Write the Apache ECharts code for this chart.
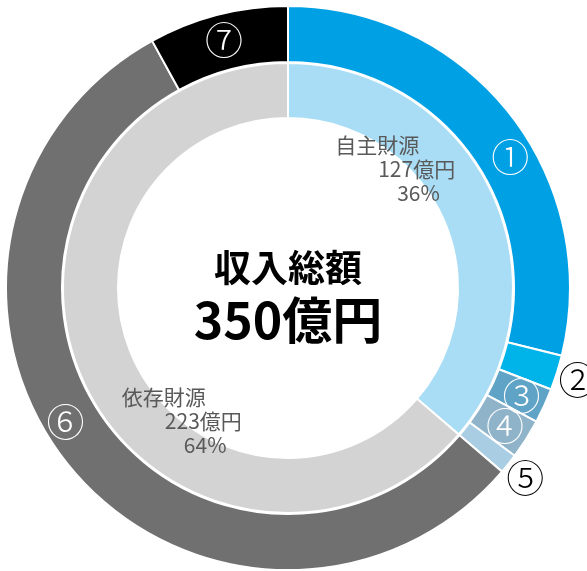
<!DOCTYPE html>
<html>
<head>
<meta charset="utf-8">
<script src="https://cdn.jsdelivr.net/npm/echarts@6/dist/echarts.min.js"></script>
<style>
html,body{margin:0;padding:0;background:#fff;}
#chart{width:587px;height:571px;}
</style>
</head>
<body>
<div id="chart"></div>
<script>
// ---- data ----
const outerNames = ['①', '②', '③', '④', '⑤', '⑥', '⑦'];
const outerValues = [101, 7, 7, 8, 4, 195, 28];
const outerColors = ['#00a0e4', '#00b4ea', '#5fa3c7', '#8fb3c8', '#a9cde3', '#707070', '#000000'];
const outerLabelOutside = [false, true, false, false, true, false, false];

const innerNames = ['自主財源', '依存財源'];
const innerValues = [127, 223];
const innerColors = ['#a9ddf5', '#d3d3d3'];

const centerTitle = '収入総額';
const unitText = '億円';
const totalValue = innerValues.reduce((a, b) => a + b, 0);

// ---- chart ----
const FONT = '"Noto Sans CJK JP", "Noto Sans", sans-serif';
const chart = echarts.init(document.getElementById('chart'), null, { renderer: 'canvas' });

const CX = 288, CY = 288;

const outerData = outerNames.map((n, i) => ({
  name: n, value: outerValues[i],
  itemStyle: { color: outerColors[i] },
  label: { show: !outerLabelOutside[i] }
}));
const outerLabelData = outerNames.map((n, i) => ({
  name: n, value: outerValues[i],
  itemStyle: { color: 'rgba(0,0,0,0)' },
  label: { show: outerLabelOutside[i] }
}));
const innerData = innerNames.map((n, i) => ({
  name: n, value: innerValues[i],
  itemStyle: { color: innerColors[i] }
}));

// label nudges (relative to default inside position)
const outerNudge = { 0: [20, 27], 5: [-23, -28] };
const innerNudge = { 0: [-75, -35], 1: [76, 49] };

const option = {
  backgroundColor: '#ffffff',
  animation: false,
  textStyle: { fontFamily: FONT },
  graphic: [
    {
      type: 'text', x: CX, y: 268,
      style: { text: centerTitle, fontFamily: FONT, fontSize: 37, fontWeight: 'bold', fill: '#000', align: 'center', verticalAlign: 'middle' }
    },
    {
      type: 'text', x: CX, y: 320,
      style: { text: totalValue + unitText, fontFamily: FONT, fontSize: 50, fontWeight: 'bold', fill: '#000', align: 'center', verticalAlign: 'middle' }
    }
  ],
  series: [
    {
      type: 'pie',
      center: [CX, CY],
      radius: [170, 225],
      startAngle: 90,
      clockwise: true,
      avoidLabelOverlap: false,
      silent: true,
      itemStyle: { borderColor: '#fff', borderWidth: 2 },
      label: {
        show: true,
        position: 'inside',
        formatter: p => `{n|${p.name}}\n{v|${p.value}${unitText}}\n{p|${Math.round(p.percent)}%}`,
        rich: {
          n: { fontFamily: FONT, fontSize: 21, color: '#595959', align: 'left', lineHeight: 24 },
          v: { fontFamily: FONT, fontSize: 21, color: '#595959', align: 'left', lineHeight: 24, padding: [0, 0, 0, 43] },
          p: { fontFamily: FONT, fontSize: 21, color: '#595959', align: 'left', lineHeight: 24, padding: [0, 0, 0, 62] }
        }
      },
      labelLine: { show: false },
      labelLayout: p => {
        const d = innerNudge[p.dataIndex] || [0, 0];
        return { dx: d[0], dy: d[1] };
      },
      data: innerData
    },
    {
      type: 'pie',
      center: [CX, CY],
      radius: [226, 282],
      startAngle: 90,
      clockwise: true,
      avoidLabelOverlap: false,
      silent: true,
      itemStyle: { borderColor: '#fff', borderWidth: 2 },
      label: {
        position: 'inside',
        formatter: '{b}',
        fontFamily: FONT,
        fontSize: 38,
        fontWeight: 300,
        color: '#ffffff'
      },
      labelLine: { show: false },
      labelLayout: p => {
        const d = outerNudge[p.dataIndex] || [0, 0];
        return { dx: d[0], dy: d[1] };
      },
      data: outerData
    },
    {
      type: 'pie',
      center: [CX, CY],
      radius: [290, 311],
      startAngle: 90,
      clockwise: true,
      avoidLabelOverlap: false,
      silent: true,
      itemStyle: { borderWidth: 0 },
      label: {
        position: 'inside',
        formatter: '{b}',
        fontFamily: FONT,
        fontSize: 38,
        fontWeight: 300,
        color: '#000000'
      },
      labelLine: { show: false },
      data: outerLabelData
    }
  ]
};
chart.setOption(option);
</script>
</body>
</html>
